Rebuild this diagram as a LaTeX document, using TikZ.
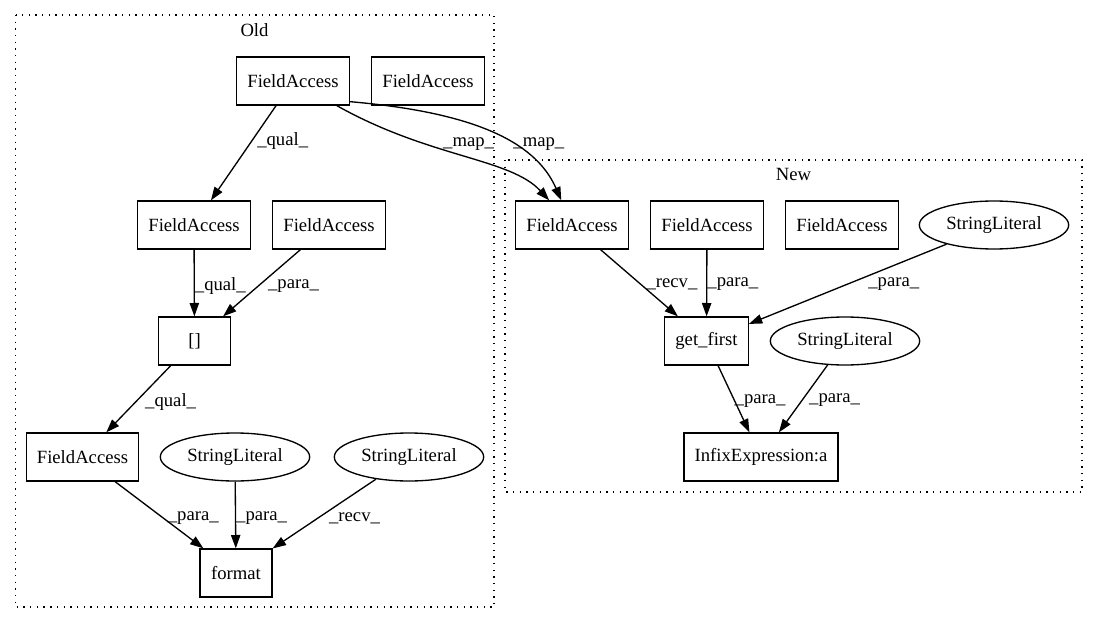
\documentclass[tikz,border=0pt]{standalone}
\usepackage{fontspec}
\setmainfont{Liberation Serif}
\usetikzlibrary{arrows.meta,shapes.geometric}

\begin{document}
\begin{tikzpicture}[x=0.75pt,y=-0.75pt,
  font=\fontsize{14}{16}\selectfont,
  box/.style={draw,line width=1pt,rectangle,minimum width=54pt,minimum height=36pt,inner xsep=8pt},
  lit/.style={draw,line width=1pt,ellipse,minimum width=112pt,minimum height=36pt,inner sep=0pt},
  edge/.style={line width=1pt,-{Triangle[length=10pt,width=7pt]}},
  lbl/.style={anchor=west,inner sep=0pt,yshift=-1pt,font=\fontsize{14}{16}\selectfont},
  cluster/.style={line width=1pt,dash pattern=on 1pt off 4pt}]
\useasboundingbox (0,0) rectangle (1096,624);
% clusters
\draw[cluster] (15.5,15) rectangle (494,607);
\draw[cluster] (505,160) rectangle (1082,492);
\node (oldtitle) at (254.5,30) {Old};
\node (newtitle) at (793.5,174) {New};
% old
\node[box] (fa1) at (293,81) {FieldAccess};
\node[box] (fa2) at (428,81) {FieldAccess};
\node[box] (fa3) at (194,225) {FieldAccess};
\node[box] (fa4) at (329,225) {FieldAccess};
\node[box] (idx) at (194.5,341) {[]};
\node[box] (fa5) at (82.5,457) {FieldAccess};
\node[lit] (sl1) at (235,457) {StringLiteral};
\node[lit] (sl2) at (409,457) {StringLiteral};
\node[box] (fmt) at (236,573) {format};
% new
\node[box] (fa6) at (572,225) {FieldAccess};
\node[box] (fa7) at (707,225) {FieldAccess};
\node[box] (fa8) at (842,225) {FieldAccess};
\node[lit] (sl3) at (994,225) {StringLiteral};
\node[box] (getf) at (706.5,341) {get\_first};
\node[lit] (sl4) at (845,341) {StringLiteral};
\node[box] (infix) at (761,457) {InfixExpression:a};
% edges
\draw[edge] (fa1) -- node[lbl,pos=0.36,xshift=3pt] {\_qual\_} (fa3);
\draw[edge] (fa1) .. controls (430,158) and (510,158) .. node[lbl,pos=0.5,anchor=south,xshift=4pt,yshift=5pt] {\_map\_} (fa6);
\draw[edge] ([yshift=3pt]fa1.south east) .. controls (470,112) and (535,140) .. node[lbl,pos=0.6,xshift=2pt] {\_map\_} (fa6);
\draw[edge] (fa3) -- node[lbl,pos=0.53] {\_qual\_} (idx);
\draw[edge] (fa4) -- node[lbl,pos=0.53,xshift=6pt] {\_para\_} (idx);
\draw[edge] (idx) -- node[lbl,pos=0.53,xshift=6pt] {\_qual\_} (fa5);
\draw[edge] (fa5) -- node[lbl,pos=0.53,xshift=4pt] {\_para\_} (fmt);
\draw[edge] (sl1) -- node[lbl,pos=0.53] {\_para\_} (fmt);
\draw[edge] (sl2) -- node[lbl,pos=0.55,xshift=7pt] {\_recv\_} (fmt);
\draw[edge] (fa6) -- node[lbl,pos=0.5,xshift=5pt] {\_recv\_} (getf);
\draw[edge] (fa7) -- node[lbl,pos=0.5] {\_para\_} (getf);
\draw[edge] (sl3) -- node[lbl,pos=0.48,xshift=12pt] {\_para\_} (getf);
\draw[edge] (getf) -- node[lbl,pos=0.51] {\_para\_} (infix);
\draw[edge] (sl4) -- node[lbl,pos=0.5,xshift=4pt] {\_para\_} (infix);
\end{tikzpicture}
\end{document}
